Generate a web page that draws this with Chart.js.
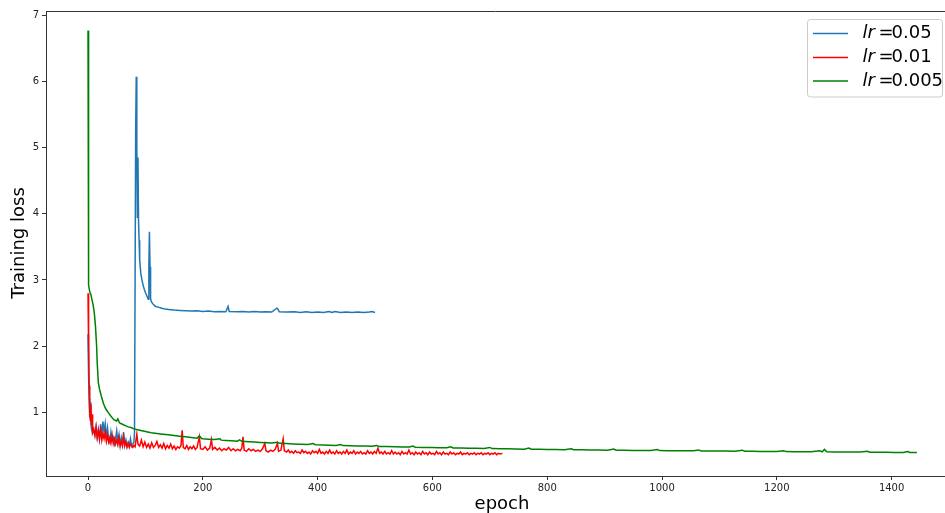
<!DOCTYPE html>
<html>
<head>
<meta charset="utf-8">
<script src="https://cdn.jsdelivr.net/npm/chart.js@4"></script>
<style>
  html, body { margin: 0; padding: 0; background: #fff; }
  #wrap { width: 945px; height: 513px; }
</style>
</head>
<body>
<div id="wrap"><canvas id="lossChart" width="945" height="513"></canvas></div>
<script>
// values
const seriesLabels = ["0.05", "0.01", "0.005"];
const seriesColors = ["#1f77b4", "#ff0000", "#008000"];
const xTicks = [0, 200, 400, 600, 800, 1000, 1200, 1400];
const yTicks = [1, 2, 3, 4, 5, 6, 7];

// lr = 0.05
const epochA = [0, 1, 2, 3, 4, 5, 6, 8, 10, 12, 14, 16, 18, 20, 22, 24, 26, 28, 30, 32, 34, 36, 38, 40,
  42, 44, 46, 48, 50, 52, 54, 56, 58, 60, 62, 64, 66, 68, 70, 72, 74, 76, 78, 80, 81, 83, 84, 85, 86, 87,
  88, 89, 90, 92, 94, 96, 98, 100, 102, 104, 105, 106, 107, 108, 109, 110, 112, 115, 118, 122, 126, 130,
  135, 140, 150, 160, 170, 180, 190, 200, 210, 220, 230, 240, 244, 246, 260, 270, 280, 290, 300, 310,
  320, 329, 331, 333, 345, 360, 370, 380, 390, 400, 410, 420, 425, 430, 440, 450, 460, 470, 480, 490,
  495, 500];
const lossA = [2.18, 1.55, 1.2, 0.92, 1.15, 0.85, 0.75, 0.68, 0.72, 0.66, 0.78, 0.62, 0.74, 0.6, 0.82,
  0.65, 0.86, 0.7, 0.83, 0.62, 0.76, 0.58, 0.54, 0.7, 0.57, 0.62, 0.52, 0.6, 0.72, 0.55, 0.66, 0.5, 0.62,
  0.53, 0.7, 0.5, 0.58, 0.48, 0.55, 0.5, 0.6, 0.49, 0.52, 0.55, 0.7, 5.2, 6.07, 5.0, 3.95, 4.85, 3.9, 3.6,
  3.3, 3.1, 3.0, 2.92, 2.86, 2.81, 2.77, 2.73, 2.71, 3.2, 3.73, 3.2, 2.72, 2.68, 2.65, 2.62, 2.6, 2.59,
  2.58, 2.57, 2.56, 2.555, 2.545, 2.54, 2.535, 2.53, 2.535, 2.525, 2.53, 2.52, 2.525, 2.52, 2.6, 2.525,
  2.52, 2.525, 2.515, 2.525, 2.515, 2.52, 2.515, 2.575, 2.56, 2.52, 2.515, 2.52, 2.51, 2.52, 2.51, 2.515,
  2.51, 2.525, 2.51, 2.525, 2.51, 2.515, 2.51, 2.515, 2.51, 2.515, 2.525, 2.51];

// lr = 0.01
const epochB = [0, 1, 2, 3, 4, 5, 6, 7, 8, 10, 12, 14, 16, 18, 20, 22, 24, 26, 28, 30, 32, 34, 36, 38,
  40, 42, 44, 46, 48, 50, 52, 54, 56, 58, 60, 62, 64, 66, 68, 70, 72, 74, 76, 78, 80, 82, 85, 87, 90, 93,
  96, 99, 102, 105, 108, 111, 114, 117, 120, 123, 126, 129, 132, 135, 138, 141, 144, 147, 150, 153, 156,
  159, 162, 164, 166, 169, 172, 175, 178, 181, 184, 187, 190, 194, 196, 200, 204, 208, 212, 215, 217, 221,
  225, 229, 233, 237, 241, 245, 249, 253, 257, 261, 265, 268, 270, 272, 276, 280, 284, 288, 292, 296, 300,
  304, 308, 310, 314, 318, 322, 326, 330, 332, 336, 340, 342,
  346, 349, 352, 355, 358, 361, 364, 367, 370, 373, 376, 379, 382, 385, 388, 391, 394, 397, 400, 403, 406,
  409, 412, 415, 418, 421, 424, 427, 430, 433, 436, 439, 442, 445, 448, 451, 454, 457, 460, 463, 466, 469,
  472, 475, 478, 481, 484, 487, 490, 493, 496, 499, 502, 505, 508, 511, 514, 517, 520, 523, 526, 529, 532,
  535, 538, 541, 544, 547, 550, 553, 556, 559, 562, 565, 568, 571, 574, 577, 580, 583, 586, 589, 592, 595,
  598, 601, 604, 607, 610, 613, 616, 619, 622, 625, 628, 631, 634, 637, 640, 643, 646, 649, 652, 655, 658,
  661, 664, 667, 670, 673, 676, 679, 682, 685, 688, 691, 694, 697, 700, 703, 706, 709, 712, 715, 718, 722];
const lossB = [2.8, 2.0, 1.4, 1.0, 0.88, 1.12, 0.8, 0.97, 0.7, 0.75, 0.65, 0.78, 0.62, 0.72, 0.6, 0.74,
  0.58, 0.68, 0.6, 0.7, 0.56, 0.65, 0.55, 0.62, 0.54, 0.66, 0.53, 0.6, 0.52, 0.58, 0.51, 0.62, 0.5, 0.56,
  0.49, 0.63, 0.5, 0.55, 0.48, 0.53, 0.47, 0.52, 0.49, 0.47, 0.5, 0.48, 0.67, 0.52, 0.49, 0.58, 0.48, 0.55,
  0.47, 0.52, 0.46, 0.54, 0.47, 0.5, 0.56, 0.47, 0.51, 0.46, 0.53, 0.45, 0.5, 0.46, 0.52, 0.45, 0.49, 0.44,
  0.48, 0.46, 0.5, 0.73, 0.47, 0.45, 0.5, 0.44, 0.48, 0.45, 0.49, 0.44, 0.47, 0.63, 0.45, 0.44, 0.48, 0.43,
  0.46, 0.59, 0.44, 0.47, 0.43, 0.46, 0.42, 0.45, 0.43, 0.47, 0.42, 0.45, 0.42, 0.44, 0.42, 0.46, 0.63,
  0.43, 0.41, 0.45, 0.42, 0.44, 0.41, 0.43, 0.41, 0.45, 0.53, 0.42, 0.4, 0.43, 0.41, 0.44, 0.53, 0.41, 0.43,
  0.6, 0.42,
  0.40, 0.43, 0.39, 0.41, 0.38, 0.42, 0.39, 0.40, 0.38, 0.43, 0.39, 0.41, 0.38, 0.40, 0.37, 0.42, 0.39,
  0.41, 0.38, 0.44, 0.38, 0.40, 0.37, 0.41, 0.38, 0.43, 0.38, 0.40, 0.37, 0.42, 0.38, 0.40, 0.37, 0.41,
  0.38, 0.43, 0.37, 0.40, 0.38, 0.42, 0.37, 0.40, 0.38, 0.41, 0.37, 0.39, 0.37, 0.42, 0.38, 0.40, 0.37,
  0.41, 0.38, 0.46, 0.38, 0.40, 0.37, 0.41, 0.37, 0.39, 0.37, 0.42, 0.37, 0.40, 0.37, 0.39, 0.36, 0.41,
  0.37, 0.39, 0.37, 0.43, 0.37, 0.39, 0.36, 0.40, 0.37, 0.39, 0.36, 0.41, 0.37, 0.39, 0.36, 0.40, 0.37,
  0.38, 0.36, 0.41, 0.37, 0.39, 0.36, 0.40, 0.37, 0.38, 0.36, 0.40, 0.37, 0.39, 0.36, 0.38, 0.37, 0.40,
  0.36, 0.38, 0.37, 0.39, 0.36, 0.38, 0.37, 0.39, 0.36, 0.38, 0.37, 0.39, 0.36, 0.38, 0.37, 0.39, 0.36,
  0.38, 0.37, 0.39, 0.36, 0.38, 0.37, 0.38];

// lr = 0.005
const epochC = [0, 1, 3, 5, 7, 9, 11, 13, 15, 16, 18, 20, 23, 27, 31, 35, 40, 45, 50, 52, 55, 60, 65, 70,
  75, 80, 90, 100, 110, 120, 130, 140, 150, 160, 170, 180, 190, 194, 198, 200, 210, 220, 230, 232, 240,
  250, 260, 264, 268, 280, 290, 300, 312, 320, 330, 334, 345, 358, 370, 383, 392, 396, 410, 420, 432, 440,
  444, 456, 470, 482, 495, 503, 507, 520, 535, 548, 560, 566, 570, 585, 600, 612, 625, 632, 636, 650, 664,
  676, 690, 700, 704, 718, 730, 745, 760, 768, 772, 786, 800, 815, 830, 842, 846, 860, 875, 890, 905, 916,
  920, 935, 950, 965, 980, 992, 996, 1010, 1025, 1040, 1055, 1064, 1068, 1082, 1097, 1112, 1127, 1140,
  1144, 1158, 1172, 1186, 1200, 1212, 1216, 1230, 1245, 1260, 1275, 1279, 1283, 1287, 1300, 1315, 1330,
  1345, 1358, 1362, 1376, 1390, 1405, 1420, 1428, 1432, 1444];
const lossC = [6.77, 2.92, 2.82, 2.78, 2.7, 2.62, 2.5, 2.3, 2.0, 1.75, 1.45, 1.35, 1.25, 1.13, 1.05, 1.0,
  0.94, 0.89, 0.87, 0.9, 0.84, 0.82, 0.8, 0.78, 0.77, 0.75, 0.73, 0.71, 0.69, 0.68, 0.67, 0.66, 0.65, 0.64,
  0.63, 0.62, 0.61, 0.645, 0.605, 0.6, 0.595, 0.59, 0.6, 0.58, 0.575, 0.57, 0.565, 0.585, 0.563, 0.555,
  0.55, 0.545, 0.54, 0.535, 0.548, 0.532, 0.528, 0.522, 0.518, 0.514, 0.53, 0.51, 0.506, 0.503, 0.5, 0.515,
  0.498, 0.495, 0.492, 0.49, 0.487, 0.5, 0.485, 0.482, 0.48, 0.477, 0.475, 0.49, 0.473, 0.47, 0.468, 0.466,
  0.464, 0.478, 0.462, 0.46, 0.458, 0.456, 0.454, 0.47, 0.452, 0.45, 0.448, 0.446, 0.444, 0.46, 0.443,
  0.441, 0.44, 0.438, 0.436, 0.45, 0.435, 0.433, 0.432, 0.43, 0.429, 0.445, 0.428, 0.427, 0.425, 0.424,
  0.423, 0.437, 0.422, 0.421, 0.42, 0.419, 0.418, 0.432, 0.417, 0.416, 0.415, 0.414, 0.413, 0.428, 0.412,
  0.411, 0.41, 0.409, 0.408, 0.42, 0.407, 0.406, 0.405, 0.404, 0.42, 0.403, 0.44, 0.403, 0.402, 0.401, 0.4,
  0.399, 0.412, 0.398, 0.397, 0.396, 0.395, 0.394, 0.408, 0.393, 0.392];

const epochs = [epochA, epochB, epochC];
const losses = [lossA, lossB, lossC];

function toPoints(xs, ys) {
  return xs.map((x, i) => ({ x: x, y: ys[i] }));
}

const datasets = seriesLabels.map((lab, i) => ({
  label: "lr = " + lab,
  data: toPoints(epochs[i], losses[i]),
  borderColor: seriesColors[i],
  backgroundColor: seriesColors[i],
  borderWidth: 1.5,
  pointRadius: 0,
  tension: 0,
  fill: false,
  order: 3 - i, // green drawn on top
}));

const font = "DejaVu Sans";

// put the ink of a string at inkX (left edge), not the pen position
function fillInk(ctx, txt, inkX, y) {
  const m = ctx.measureText(txt);
  ctx.fillText(txt, inkX - m.actualBoundingBoxLeft, y);
}

// titles, top spine and the matplotlib style legend
const extras = {
  id: "extras",
  afterDraw(chart) {
    const ctx = chart.ctx;
    const area = chart.chartArea;
    ctx.save();

    // top spine
    ctx.strokeStyle = "#333";
    ctx.lineWidth = 1;
    ctx.beginPath();
    ctx.moveTo(area.left, area.top + 0.5);
    ctx.lineTo(area.right, area.top + 0.5);
    ctx.stroke();

    // axis titles
    ctx.fillStyle = "#000";
    ctx.font = "18px " + font;
    ctx.textAlign = "center";
    ctx.textBaseline = "alphabetic";
    ctx.fillText("epoch", 502, 509);
    ctx.translate(23.5, 243);
    ctx.rotate(-Math.PI / 2);
    ctx.fillText("Training loss", 0, 0);
    ctx.setTransform(1, 0, 0, 1, 0, 0);

    // legend box
    const bx = 807.5, by = 19.5, bw = 135, bh = 77.5, r = 3;
    ctx.fillStyle = "rgba(255,255,255,0.8)";
    ctx.strokeStyle = "#cccccc";
    ctx.beginPath();
    ctx.roundRect(bx, by, bw, bh, r);
    ctx.fill();
    ctx.stroke();

    const rows = [33.5, 57.5, 81];
    seriesLabels.forEach((lab, i) => {
      const y = rows[i];
      ctx.strokeStyle = seriesColors[i];
      ctx.lineWidth = 1.5;
      ctx.beginPath();
      ctx.moveTo(813, y);
      ctx.lineTo(848, y);
      ctx.stroke();

      ctx.fillStyle = "#000";
      ctx.textAlign = "left";
      ctx.textBaseline = "middle";
      ctx.font = "italic 18px " + font;
      fillInk(ctx, "lr", 862.5, y);
      ctx.font = "18px " + font;
      fillInk(ctx, "=", 877.5, y);
      fillInk(ctx, lab, 890.5, y);
    });
    ctx.restore();
  },
};

const lossChart = new Chart(document.getElementById("lossChart").getContext("2d"), {
  type: "line",
  data: { datasets: datasets },
  options: {
    responsive: false,
    animation: false,
    layout: { padding: { top: 11, right: 0, left: 0, bottom: 0 } },
    plugins: {
      legend: { display: false },
      tooltip: { enabled: false },
    },
    scales: {
      x: {
        type: "linear",
        min: -73.2,
        max: 1493,
        afterBuildTicks: (axis) => { axis.ticks = xTicks.map((v) => ({ value: v })); },
        afterFit: (axis) => { axis.height = 37; },
        grid: { drawOnChartArea: false, drawTicks: true, tickLength: 4, color: "#333" },
        border: { display: true, color: "#333", width: 1 },
        ticks: {
          color: "#222",
          font: { family: font, size: 10 },
          padding: 2,
          maxRotation: 0,
          callback: (v) => String(v),
        },
      },
      y: {
        type: "linear",
        min: 0.038,
        max: 7.065,
        afterBuildTicks: (axis) => { axis.ticks = yTicks.map((v) => ({ value: v })); },
        afterFit: (axis) => { axis.width = 46; },
        grid: { drawOnChartArea: false, drawTicks: true, tickLength: 4, color: "#333" },
        border: { display: true, color: "#333", width: 1 },
        ticks: { color: "#222", font: { family: font, size: 10 }, padding: 3, callback: (v) => String(v) },
      },
    },
  },
  plugins: [extras],
});
</script>
</body>
</html>
